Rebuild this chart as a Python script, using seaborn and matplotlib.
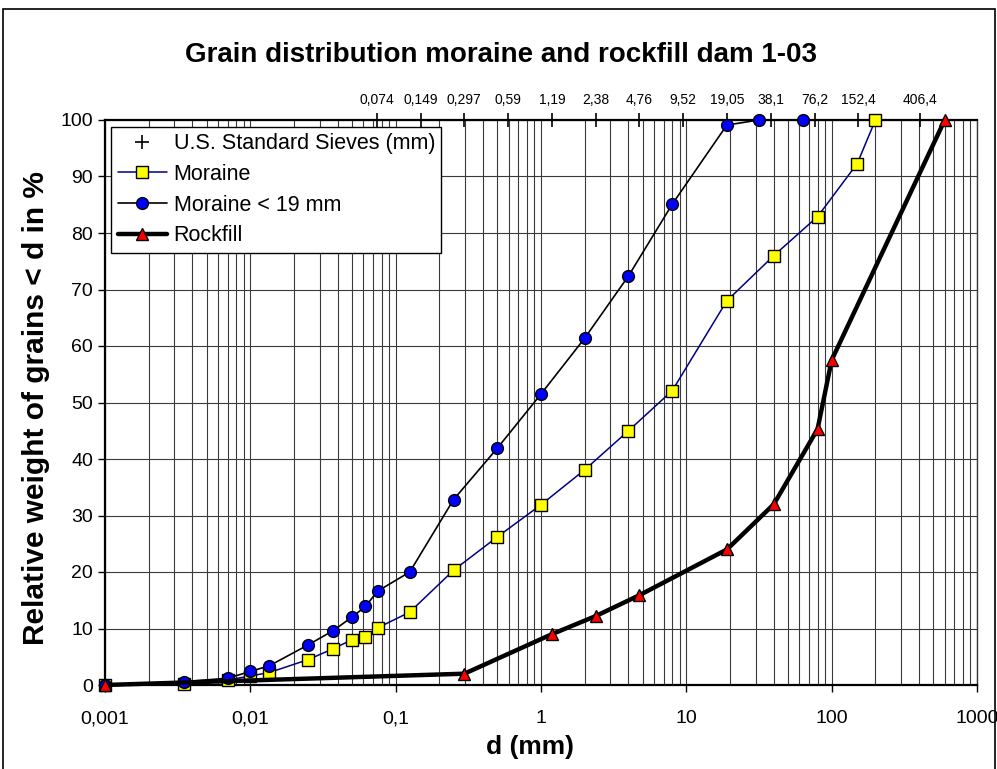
import numpy as np
import pandas as pd
import seaborn as sns
import matplotlib.pyplot as plt
from matplotlib.ticker import FixedLocator, NullLocator, LogLocator, NullFormatter
from matplotlib.lines import Line2D
from matplotlib.patches import Rectangle

# data
sieves = [0.074, 0.149, 0.297, 0.59, 1.19, 2.38, 4.76, 9.52, 19.05, 38.1, 76.2, 152.4, 406.4]

moraine_d = [0.001, 0.0035, 0.007, 0.01, 0.0135, 0.025, 0.037, 0.05, 0.062, 0.075, 0.125,
             0.25, 0.5, 1, 2, 4, 8, 19, 40, 80, 150, 200]
moraine_p = [0, 0.2, 0.9, 1.6, 2.2, 4.5, 6.4, 8.0, 8.5, 10.1, 12.9,
             20.3, 26.2, 31.9, 38.1, 45.0, 52.1, 68.0, 76.0, 82.9, 92.3, 100]

fine_d = [0.001, 0.0035, 0.007, 0.01, 0.0135, 0.025, 0.037, 0.05, 0.062, 0.075, 0.125,
          0.25, 0.5, 1, 2, 4, 8, 19, 31.5, 63]
fine_p = [0, 0.6, 1.2, 2.4, 3.4, 7.1, 9.6, 12.0, 13.9, 16.6, 20.0,
          32.8, 41.9, 51.5, 61.4, 72.4, 85.1, 99.1, 100, 100]

rock_d = [0.001, 0.297, 1.19, 2.38, 4.76, 19.05, 40, 80, 100, 600]
rock_p = [0, 2.0, 9.0, 12.2, 15.9, 24.0, 32.0, 45.3, 57.5, 100]

x_ticks = [0.001, 0.01, 0.1, 1, 10, 100, 1000]
x_labels = ["0,001", "0,01", "0,1", "1", "10", "100", "1000"]

sns.set_style("white")
plt.rcParams['font.family'] = ['Liberation Sans', 'DejaVu Sans']
plt.rcParams['text.color'] = 'black'
plt.rcParams['axes.labelcolor'] = 'black'
plt.rcParams['xtick.color'] = 'black'
plt.rcParams['ytick.color'] = 'black'

fig = plt.figure(figsize=(9.97, 7.69), dpi=100)
ax = fig.add_axes([105 / 997, 1 - 685 / 769, 872 / 997, 565 / 769])

ax.set_xscale('log')
ax.set_xlim(0.001, 1000)
ax.set_ylim(0, 100)

# grid
ax.xaxis.set_major_locator(FixedLocator(x_ticks))
ax.xaxis.set_minor_locator(LogLocator(base=10, subs=np.arange(2, 10)))
ax.xaxis.set_minor_formatter(NullFormatter())
ax.set_xticklabels(x_labels)
ax.set_yticks(range(0, 101, 10))
ax.grid(True, which='both', axis='x', color='#3a3a3a', lw=0.8)
ax.grid(True, which='major', axis='y', color='#3a3a3a', lw=0.8)

# sieves on the top line
sns.scatterplot(x=sieves, y=[100] * len(sieves), marker='+', color='black', s=90,
                linewidth=1.2, ax=ax, clip_on=False, zorder=4, legend=False)

sns.lineplot(x=moraine_d, y=moraine_p, sort=False, color='#000080', lw=1.1,
             marker='s', markersize=8, markerfacecolor='yellow', markeredgecolor='black',
             markeredgewidth=1, ax=ax, clip_on=False, zorder=5)
sns.lineplot(x=fine_d, y=fine_p, sort=False, color='black', lw=1.2,
             marker='o', markersize=8.5, markerfacecolor='#0000ff', markeredgecolor='black',
             markeredgewidth=1, ax=ax, clip_on=False, zorder=6)
sns.lineplot(x=rock_d, y=rock_p, sort=False, color='black', lw=3.2,
             marker='^', markersize=8.5, markerfacecolor='red', markeredgecolor='black',
             markeredgewidth=1, ax=ax, clip_on=False, zorder=7)

for s in ['left', 'bottom', 'top']:
    ax.spines[s].set_color('black')
    ax.spines[s].set_linewidth(1.6)
ax.spines['right'].set_color('#3a3a3a')
ax.spines['right'].set_linewidth(1)

ax.tick_params(axis='both', which='major', direction='out', length=5, width=1,
               color='black', labelsize=14, left=True, bottom=True)
ax.tick_params(axis='x', which='minor', length=0)
ax.tick_params(axis='x', which='major', pad=13)

# sieve labels on top
sec = ax.secondary_xaxis('top')
sec.xaxis.set_major_locator(FixedLocator(sieves))
sec.xaxis.set_minor_locator(NullLocator())
sec.set_xticklabels([str(v).replace('.', ',') for v in sieves])
sec.tick_params(length=0, labelsize=10, pad=9)
sec.spines['top'].set_visible(False)

ax.set_xlabel("d (mm)", fontsize=19, fontweight='bold')
ax.xaxis.set_label_coords(0.487, -0.088)
ax.set_ylabel("Relative weight of grains < d in %", fontsize=21.5, fontweight='bold')
ax.yaxis.set_label_coords(-0.063, 0.49)

fig.suptitle("Grain distribution moraine and rockfill dam 1-03", fontsize=20,
             fontweight='bold', y=1 - 55 / 769, va='center', x=0.503)

handles = [
    Line2D([], [], ls='none', marker='+', color='black', markersize=10, markeredgewidth=1.2),
    Line2D([], [], color='#000080', lw=1.1, marker='s', markersize=8,
           markerfacecolor='yellow', markeredgecolor='black'),
    Line2D([], [], color='black', lw=1.2, marker='o', markersize=8.5,
           markerfacecolor='#0000ff', markeredgecolor='black'),
    Line2D([], [], color='black', lw=3.2, marker='^', markersize=8.5,
           markerfacecolor='red', markeredgecolor='black'),
]
leg = ax.legend(handles, ["U.S. Standard Sieves (mm)", "Moraine", "Moraine < 19 mm", "Rockfill"],
                loc='upper left', bbox_to_anchor=(0.007, 0.988), fontsize=15.5,
                frameon=True, fancybox=False, framealpha=1, edgecolor='black',
                borderaxespad=0, handlelength=2.3, handletextpad=0.3,
                labelspacing=0.45, borderpad=0.3)
leg.get_frame().set_linewidth(1)
leg.set_zorder(10)

# outer border of the chart
fig.patches.append(Rectangle((3 / 997, -0.05), 992 / 997, 1.05 - 9 / 769,
                             transform=fig.transFigure, fill=False,
                             edgecolor='black', lw=1.2))

fig.savefig("out.png", dpi=100)
